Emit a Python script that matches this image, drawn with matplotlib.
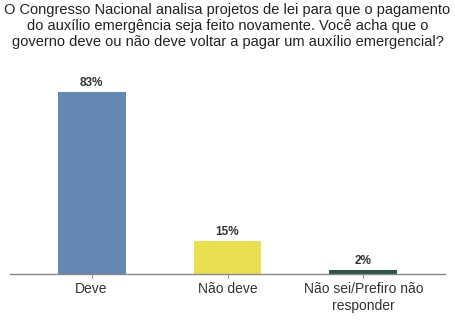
import matplotlib
matplotlib.use("Agg")
import matplotlib.pyplot as plt

plt.rcParams['font.family'] = ['Liberation Sans', 'DejaVu Sans']

title = ("O Congresso Nacional analisa projetos de lei para que o pagamento\n"
         "do auxílio emergência seja feito novamente. Você acha que o\n"
         "governo deve ou não deve voltar a pagar um auxílio emergencial?")
categories = ["Deve", "Não deve", "Não sei/Prefiro não\nresponder"]
values = [83, 15, 2]
colors = ["#6388b2", "#e8df53", "#2c5546"]

fig = plt.figure(figsize=(4.55, 3.33), dpi=100)
ax = fig.add_axes([0.022, 0.177, 0.956, 0.592])

x = range(len(categories))
bars = ax.bar(x, values, width=0.5, color=colors, zorder=2)
for xi, v in zip(x, values):
    ax.text(xi, v + 1.4, f"{v}%", ha="center", va="bottom", fontsize=8.5,
            fontweight="bold", color="#333333")

ax.set_xlim(-0.6, 2.6)
ax.set_ylim(0, 90)
ax.set_xticks(list(x))
ax.set_xticklabels(categories, fontsize=10, color="#333333")
ax.tick_params(axis="x", length=3, color="#888888", pad=3)
ax.set_yticks([])
for s in ["top", "right", "left"]:
    ax.spines[s].set_visible(False)
ax.spines["bottom"].set_color("#888888")
ax.spines["bottom"].set_linewidth(1)

fig.text(0.5, 0.99, title, ha="center", va="top", fontsize=10.5,
         color="#222222", linespacing=1.15)

fig.savefig("out.png", dpi=100)
